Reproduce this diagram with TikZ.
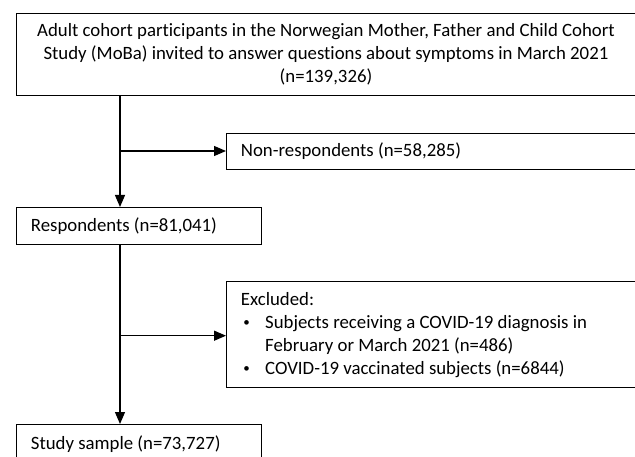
\documentclass[tikz,border=0pt]{standalone}
\usepackage{fontspec}
\setmainfont[Ligatures=NoCommon]{Carlito}
\usetikzlibrary{arrows.meta}
\newcommand{\smallbul}{\makebox[24.3pt][l]{\hspace{2.5pt}\raisebox{1.6pt}{\fontsize{13}{13}\selectfont\textbullet}}}
\begin{document}
\begin{tikzpicture}[x=1pt,y=-1pt,
  box/.style={draw, line width=1.3pt, rectangle, inner sep=0pt},
  txt/.style={font=\fontsize{18.8}{23}\selectfont, inner sep=0pt},
  conn/.style={line width=1.3pt},
  arr/.style={conn, -{Triangle[length=12pt,width=10pt]}}]
\useasboundingbox (0,0) rectangle (635,457);
\clip (0,0) rectangle (635,457);
\fill[white] (0,0) rectangle (635,457);
% boxes
\node[box, minimum width=700pt, minimum height=82.3pt, anchor=north west] (top) at (15.7,12.7) {};
\node[box, minimum width=600pt, minimum height=36.3pt, anchor=north west] (nonresp) at (226,132.7) {};
\node[box, minimum width=245pt, minimum height=37pt, anchor=north west] (resp) at (15.7,207) {};
\node[box, minimum width=600pt, minimum height=105.7pt, anchor=north west] (excl) at (226,281) {};
\node[box, minimum width=245pt, minimum height=60pt, anchor=north west] (study) at (15.7,424) {};
% texts
\node[txt, align=center] (toptext) at (326,54.5) {Adult cohort participants in the Norwegian Mother, Father and Child Cohort\\Study (MoBa) invited to answer questions about symptoms in March 2021\\(n=139,326)};
\node[txt, anchor=west] (nrtext) at (240.7,151.5) {Non-respondents (n=58,285)};
\node[txt, anchor=west] (resptext) at (30.7,226) {Respondents (n=81,041)};
\node[txt, anchor=west, align=left] (excltext) at (240.7,335) {Excluded:\\
\smallbul Subjects receiving a COVID-19 diagnosis in\\
\hspace{24.3pt}February or March 2021 (n=486)\\
\smallbul COVID-19 vaccinated subjects (n=6844)};
\node[txt, anchor=west] (studytext) at (30.7,444) {Study sample (n=73,727)};
% connectors
\coordinate (j1) at (120,151);
\coordinate (j2) at (120,335.7);
\draw[arr] (top.south -| j1) -- (resp.north -| j1);
\draw[arr] (j1) -- (nonresp.west |- j1);
\draw[arr] (resp.south -| j2) -- (study.north -| j2);
\draw[arr] (j2) -- (excl.west |- j2);
\end{tikzpicture}
\end{document}
